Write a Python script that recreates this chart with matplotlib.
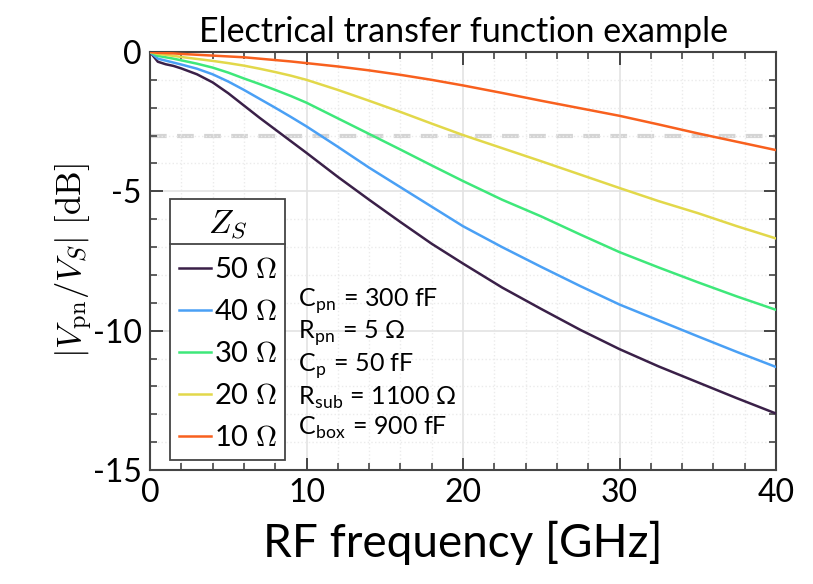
import numpy as np
import matplotlib
matplotlib.use("Agg")
import matplotlib.pyplot as plt
from matplotlib.lines import Line2D

plt.rcParams['font.family'] = ['Lato', 'DejaVu Sans']
plt.rcParams['mathtext.fontset'] = 'cm'
plt.rcParams['axes.unicode_minus'] = False

# frequency samples [GHz] and |Vpn/Vs| [dB]
freq = [0, 0.5, 1, 1.5, 2, 3, 4, 5, 6, 7, 8, 9, 10, 12, 14, 16, 18, 20,
        22.5, 25, 27.5, 30, 32.5, 35, 37.5, 40]
zs_50 = [0, -0.35, -0.44, -0.5, -0.59, -0.8, -1.09, -1.48, -1.92, -2.36, -2.78, -3.2, -3.62,
         -4.48, -5.3, -6.1, -6.88, -7.59, -8.45, -9.22, -9.97, -10.66, -11.28, -11.85, -12.42, -12.97]
zs_40 = [0, -0.24, -0.31, -0.38, -0.45, -0.6, -0.8, -1.06, -1.36, -1.68, -2.0, -2.33, -2.67,
         -3.4, -4.15, -4.85, -5.55, -6.25, -7.0, -7.71, -8.4, -9.06, -9.63, -10.2, -10.76, -11.3]
zs_30 = [0, -0.14, -0.19, -0.24, -0.3, -0.42, -0.56, -0.74, -0.95, -1.15, -1.36, -1.58, -1.82,
         -2.38, -2.94, -3.5, -4.07, -4.63, -5.3, -5.9, -6.55, -7.18, -7.73, -8.26, -8.77, -9.25]
zs_20 = [0, -0.07, -0.1, -0.14, -0.18, -0.25, -0.32, -0.4, -0.49, -0.6, -0.72, -0.85, -1.0,
         -1.36, -1.75, -2.15, -2.57, -2.98, -3.45, -3.92, -4.4, -4.88, -5.35, -5.78, -6.25, -6.69]
zs_10 = [0, -0.03, -0.04, -0.05, -0.07, -0.1, -0.13, -0.16, -0.19, -0.24, -0.29, -0.34, -0.4,
         -0.52, -0.66, -0.82, -1.0, -1.2, -1.47, -1.75, -2.02, -2.29, -2.6, -2.92, -3.22, -3.52]

series = [zs_50, zs_40, zs_30, zs_20, zs_10]
labels = ["50 $\\Omega$", "40 $\\Omega$", "30 $\\Omega$", "20 $\\Omega$", "10 $\\Omega$"]
colors = ['#3a2048', '#4aa0f5', '#3ee87a', '#e2d84a', '#f8601e']

fig = plt.figure(figsize=(8.13, 5.84), dpi=100)
ax = fig.add_axes([0.1845, 0.195, 0.77, 0.716])

ax.axhline(-3, color='#d4d4d4', lw=3, dashes=(4, 2.5), zorder=1)
for y, lab, c in zip(series, labels, colors):
    ax.plot(freq, y, color=c, lw=1.8, label=lab, zorder=3)

ax.set_xlim(0, 40)
ax.set_ylim(-15, 0)
ax.set_xticks([0, 10, 20, 30, 40])
ax.set_xticks(np.arange(0, 41, 2), minor=True)
ax.set_yticks([-15, -10, -5, 0])
ax.set_yticks(np.arange(-15, 1, 1), minor=True)
ax.grid(which='major', color='#e3e3e3', lw=1.2)
ax.grid(which='minor', color='#ebebeb', lw=1, ls=':')
ax.tick_params(which='both', direction='in', top=True, right=True, colors='#444444',
               labelcolor='black')
ax.tick_params(which='major', length=9, width=1.4, labelsize=23, pad=6)
ax.tick_params(which='minor', length=5, width=1.2)
for s in ax.spines.values():
    s.set_color('#444444')
    s.set_linewidth(1.5)

ax.set_title("Electrical transfer function example", fontsize=24.5, pad=7)
ax.set_xlabel("RF frequency [GHz]", fontsize=33, labelpad=9)
ax.set_ylabel(r"$|V_{\mathrm{pn}}/V_S|\ [\mathrm{dB}]$", fontsize=25, labelpad=-2)

leg = ax.legend(loc='lower left', bbox_to_anchor=(0.032, 0.024), title="$Z_S$",
                fontsize=21, title_fontsize=24, frameon=True, fancybox=False,
                handlelength=1.1, handletextpad=0.1, borderpad=0.3, labelspacing=0.55,
                borderaxespad=0)
leg.get_frame().set_edgecolor('#444444')
leg.get_frame().set_linewidth(1.3)
leg.get_frame().set_alpha(1)

ax.text(0.236, 0.44, "C$_\\mathregular{pn}$ = 300 fF\nR$_\\mathregular{pn}$ = 5 Ω\n"
        "C$_\\mathregular{p}$ = 50 fF\nR$_\\mathregular{sub}$ = 1100 Ω\n"
        "C$_\\mathregular{box}$ = 900 fF",
        transform=ax.transAxes, fontsize=18, va='top', ha='left', linespacing=1.17)

# separator line under the legend title
fig.canvas.draw()
r = fig.canvas.get_renderer()
lb = leg.get_window_extent(r)
tb = leg.get_title().get_window_extent(r)
ysep = tb.y0 - 3
fig.add_artist(Line2D([lb.x0, lb.x1], [ysep, ysep], transform=None,
                      color='#444444', lw=1.3, zorder=10))

fig.savefig("out.png", dpi=100)
